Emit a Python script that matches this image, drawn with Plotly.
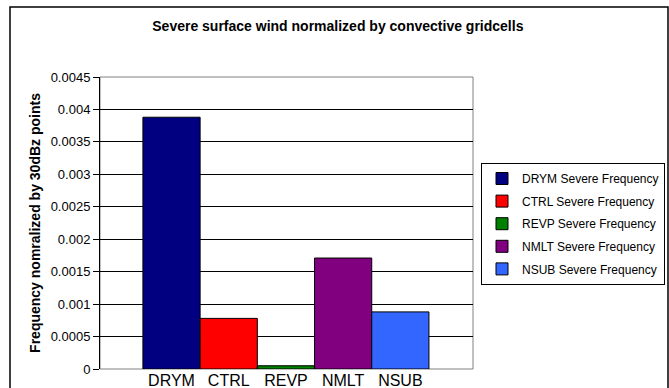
import plotly.graph_objects as go

categories = ["DRYM", "CTRL", "REVP", "NMLT", "NSUB"]
series_names = ["DRYM Severe Frequency", "CTRL Severe Frequency", "REVP Severe Frequency",
                "NMLT Severe Frequency", "NSUB Severe Frequency"]
values = [0.00388, 0.00078, 0.00005, 0.00171, 0.00088]
colors = ["#000080", "#FF0000", "#008000", "#800080", "#3366FF"]
y_tick_values = [0, 0.0005, 0.001, 0.0015, 0.002, 0.0025, 0.003, 0.0035, 0.004, 0.0045]
y_tick_labels = ["0", "0.0005", "0.001", "0.0015", "0.002", "0.0025", "0.003", "0.0035", "0.004", "0.0045"]

FONT = "Arial, Liberation Sans, sans-serif"

fig = go.Figure()
for i, (cat, name, val, col) in enumerate(zip(categories, series_names, values, colors)):
    fig.add_trace(go.Bar(
        x=[i], y=[val], name=name, width=1, legendgroup=cat,
        marker=dict(color=col, line=dict(color="black", width=1)),
    ))

W, H = 669, 388
L, R, T, B = 100, 473, 77, 369

def px(x):
    return (x - L) / (R - L)

def py(y):
    return (B - y) / (B - T)

fig.update_layout(
    width=W, height=H,
    margin=dict(l=L, r=W - R, t=T, b=H - B, pad=0, autoexpand=False),
    paper_bgcolor="white", plot_bgcolor="white",
    barmode="overlay",
    font=dict(family=FONT, color="black", size=12),
    title=dict(text="<b>Severe surface wind normalized by convective gridcells</b>",
               x=0.505, xanchor="center", y=1 - 26 / H, yanchor="middle",
               font=dict(size=14, family=FONT, color="black")),
    showlegend=True,
    legend=dict(x=px(481), y=py(163), xanchor="left", yanchor="top",
                bordercolor="black", borderwidth=1, bgcolor="white",
                font=dict(size=12, family=FONT, color="black"),
                tracegroupgap=3.6, itemwidth=30, traceorder="grouped"),
    xaxis=dict(range=[-1.25, 5.27], tickmode="array", tickvals=list(range(len(categories))),
               ticktext=categories, showgrid=False, zeroline=False, automargin=False,
               showline=False, ticks="", tickfont=dict(size=16, family=FONT)),
    yaxis=dict(range=[0, 0.0045], tickmode="array", tickvals=y_tick_values,
               ticktext=y_tick_labels, showgrid=True, gridcolor="black", gridwidth=1,
               zeroline=False, showline=True, linecolor="black", linewidth=1,
               ticks="outside", ticklen=6, tickcolor="black", automargin=False,
               tickfont=dict(size=13, family=FONT),
               title=dict(text="<b>Frequency nomralized by 30dBz points</b>",
                          font=dict(size=14, family=FONT), standoff=6)),
)

# plot area border (gray), drawn beneath data
fig.add_shape(type="rect", xref="paper", yref="paper", x0=0, x1=1, y0=0, y1=1,
              line=dict(color="#808080", width=1), layer="below")
# outer chart border
fig.add_shape(type="rect", xref="paper", yref="paper",
              x0=px(10), x1=px(668), y0=py(396), y1=py(7),
              line=dict(color="black", width=1.5))

fig.write_html("out.html", config={"displayModeBar": False},
               post_script="document.body.style.margin='0';document.body.style.overflow='hidden';")
